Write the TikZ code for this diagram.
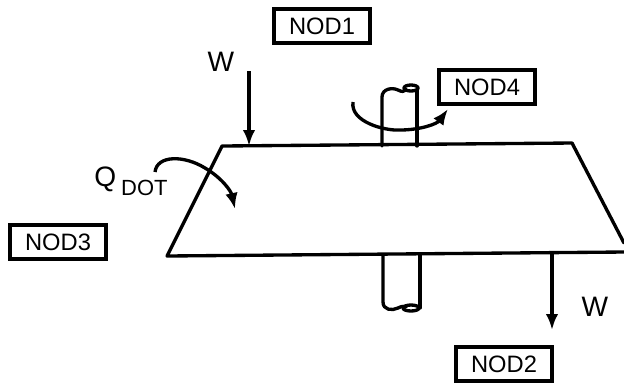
\documentclass[tikz,border=0pt]{standalone}
\usepackage{fontspec}
\setmainfont{Liberation Sans}
\usetikzlibrary{arrows.meta}
\tikzset{
  nodbox/.style={rectangle, draw=black, line width=1.9pt, minimum width=1.92cm, minimum height=0.68cm,
                 inner sep=0pt, align=center, font=\fontsize{13.5}{15}\selectfont},
  loadlabel/.style={inner sep=0pt, font=\fontsize{16}{18}\selectfont},
  outline/.style={line width=1.9pt, line join=round, line cap=round},
  arrow/.style={-{Latex[length=3.2mm,width=2.5mm]}, line width=1.9pt},
}
\begin{document}
\begin{tikzpicture}[x=0.02cm,y=-0.02cm]
\useasboundingbox (0,0) rectangle (624,383);

\node[nodbox] (nod1) at (322,26) {NOD1};
\node[nodbox] (nod2) at (504,364) {NOD2};
\node[nodbox] (nod3) at (58,242) {NOD3};
\node[nodbox] (nod4) at (487,87) {NOD4};
\node[loadlabel] (wtop) at (221,62) {W};
\node[loadlabel] (wbot) at (595,307) {W};
\node[loadlabel, anchor=base west] (qdot) at (94,186) {Q\hspace{1mm}\raisebox{-1.8mm}{\fontsize{12.5}{14}\selectfont DOT}};

% plate
\coordinate (tl) at (222,146);
\coordinate (tr) at (572,143);
\coordinate (bl) at (167,256);
\draw[outline] (624,243) -- (tr) -- (tl) -- (bl) -- (624,252);

% shaft
\draw[outline] (382,146) -- (382,97) .. controls (382,89) and (392,87) .. (398,90)
  .. controls (402,92) and (404,92) .. (406,89);
\draw[outline] (411,88) ellipse (7 and 3);
\draw[outline] (417,146) -- (417,90);
\draw[outline] (383,255) -- (383,302) .. controls (383,310) and (392,311) .. (398,308)
  .. controls (402,306) and (404,306) .. (406,307);
\draw[outline] (411,308) ellipse (8 and 3);
\draw[outline] (420,254) -- (420,308);

% loads
\coordinate (wtopa) at (249,71);
\coordinate (wtopb) at (249,146);
\coordinate (wbota) at (552,253);
\coordinate (wbotb) at (552,330);
\draw[arrow] (wtopa) -- (wtopb);
\draw[arrow] (wbota) -- (wbotb);

% torque and heat
\coordinate (rota) at (353,102);
\coordinate (rotb) at (448,109);
\coordinate (qa) at (155,172);
\coordinate (qb) at (235,209);
\draw[arrow] (rota) .. controls (350,122) and (385,131) .. (400,130)
  .. controls (420,130) and (437,124) .. (rotb);
\draw[arrow] (qa) .. controls (157,155) and (184,155) .. (205,168)
  .. controls (222,178) and (231,191) .. (qb);
\end{tikzpicture}
\end{document}
